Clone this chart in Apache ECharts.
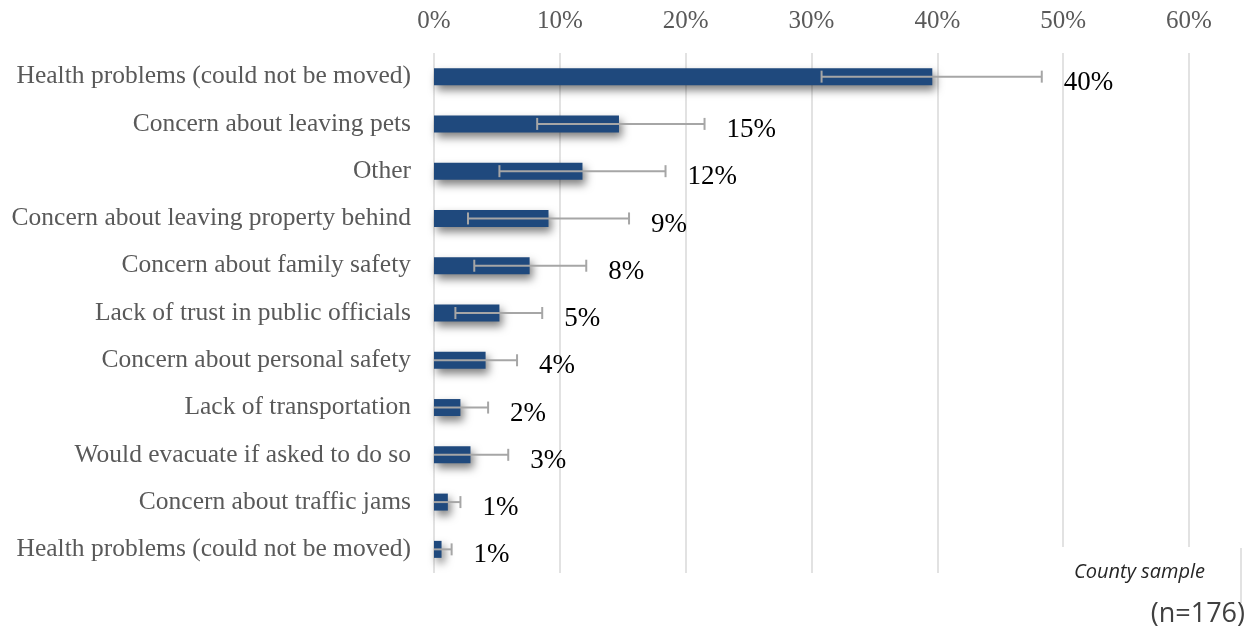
<!DOCTYPE html>
<html>
<head>
<meta charset="utf-8">
<script src="https://cdn.jsdelivr.net/npm/echarts@6/dist/echarts.min.js"></script>
<style>
  html, body { margin: 0; padding: 0; background: #fff; }
  #main { width: 1256px; height: 637px; }
</style>
</head>
<body>
<div id="main"></div>
<script>
// reasons for not evacuating, county sample
const categories = [
  'Health problems (could not be moved)',
  'Concern about leaving pets',
  'Other',
  'Concern about leaving property behind',
  'Concern about family safety',
  'Lack of trust in public officials',
  'Concern about personal safety',
  'Lack of transportation',
  'Would evacuate if asked to do so',
  'Concern about traffic jams',
  'Health problems (could not be moved)'
]
const values = [39.6, 14.7, 11.8, 9.1, 7.6, 5.2, 4.1, 2.1, 2.9, 1.1, 0.6]
const labels = ['40%', '15%', '12%', '9%', '8%', '5%', '4%', '2%', '3%', '1%', '1%']
const errLow = [30.8, 8.2, 5.2, 2.7, 3.2, 1.7, 0, 0, 0, 0, 0]
const errHigh = [48.3, 21.5, 18.4, 15.5, 12.1, 8.6, 6.6, 4.3, 5.9, 2.1, 1.4]
const xTicks = [0, 60, 10] // min, max, interval

const serif = '"Liberation Serif", "DejaVu Serif", serif'

const chart = echarts.init(document.getElementById('main'))

const errData = values.map((v, i) => [i, errLow[i], errHigh[i], labels[i]])

chart.setOption({
  animation: false,
  grid: { left: 434, right: 67, top: 53, bottom: 64, containLabel: false },
  xAxis: {
    type: 'value',
    position: 'top',
    min: xTicks[0],
    max: xTicks[1],
    interval: xTicks[2],
    axisLine: { show: false },
    axisTick: { show: false },
    axisLabel: {
      formatter: '{value}%',
      fontFamily: serif,
      fontSize: 25,
      color: '#595959',
      margin: 19
    },
    splitLine: { lineStyle: { color: '#D9D9D9', width: 1.5 } }
  },
  yAxis: {
    type: 'category',
    inverse: true,
    data: categories,
    axisLine: { show: false },
    axisTick: { show: false },
    axisLabel: {
      fontFamily: serif,
      fontSize: 25.5,
      color: '#595959',
      margin: 23,
      padding: [4, 0, 0, 0]
    }
  },
  series: [
    {
      type: 'bar',
      data: values,
      barWidth: 17,
      itemStyle: {
        color: '#1F497D',
        shadowColor: 'rgba(0,0,0,0.5)',
        shadowBlur: 8,
        shadowOffsetX: 3,
        shadowOffsetY: 5
      },
      z: 2
    },
    {
      type: 'custom',
      data: errData,
      z: 3,
      renderItem: (params, api) => {
        const idx = api.value(0)
        const lo = api.coord([api.value(1), idx])
        const hi = api.coord([api.value(2), idx])
        const style = { stroke: '#A6A6A6', lineWidth: 2 }
        const children = [
          { type: 'line', shape: { x1: lo[0], y1: lo[1], x2: hi[0], y2: hi[1] }, style },
          { type: 'line', shape: { x1: hi[0], y1: hi[1] - 6, x2: hi[0], y2: hi[1] + 6 }, style },
          {
            type: 'text',
            x: hi[0] + 22,
            y: hi[1] + 6,
            style: {
              text: labels[params.dataIndex],
              font: '27px ' + serif,
              fill: '#000',
              verticalAlign: 'middle'
            }
          }
        ]
        if (api.value(1) > 0) {
          children.push({ type: 'line', shape: { x1: lo[0], y1: lo[1] - 6, x2: lo[0], y2: lo[1] + 6 }, style })
        }
        return { type: 'group', children }
      }
    }
  ],
  graphic: [
    // sample note box sits over the right gridlines
    {
      type: 'rect',
      z: 10,
      shape: { x: 1052, y: 547, width: 188, height: 90 },
      style: { fill: '#fff' }
    },
    {
      type: 'text',
      z: 11,
      left: 1074,
      top: 562,
      style: {
        text: 'County sample',
        font: 'italic 20px "Open Sans", "Liberation Sans", sans-serif',
        fill: '#262626'
      }
    },
    {
      type: 'line',
      z: 11,
      shape: { x1: 1241, y1: 548, x2: 1241, y2: 603 },
      style: { stroke: '#D9D9D9', lineWidth: 1.5 }
    },
    {
      type: 'text',
      z: 11,
      right: 11,
      top: 601,
      style: {
        text: '(n=176)',
        font: '27px "Open Sans", "Liberation Sans", sans-serif',
        fill: '#404040'
      }
    }
  ]
})
</script>
</body>
</html>
